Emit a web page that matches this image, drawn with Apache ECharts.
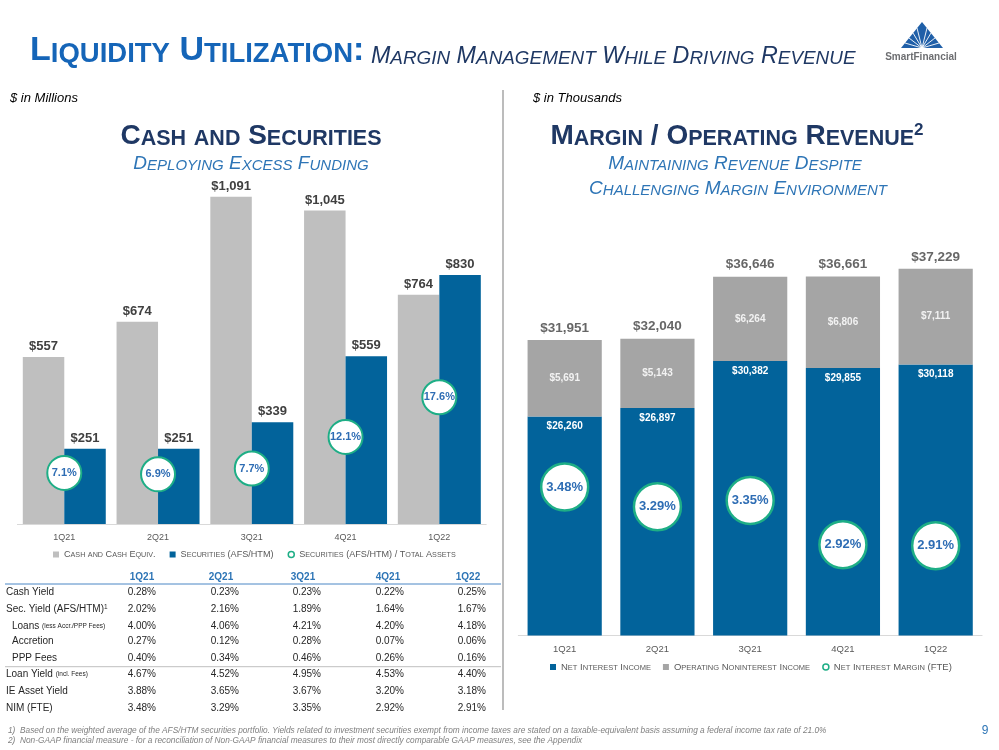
<!DOCTYPE html>
<html><head><meta charset="utf-8">
<script src="https://cdn.jsdelivr.net/npm/echarts@6/dist/echarts.min.js"></script>
<style>html,body{margin:0;padding:0;background:#fff}#c{width:999px;height:750px}</style>
</head><body><div id="c"></div>
<script>
// ---------- data ----------
const quarters = ['1Q21', '2Q21', '3Q21', '4Q21', '1Q22'];
const cashEquiv = [557, 674, 1091, 1045, 764];
const securities = [251, 251, 339, 559, 830];
const secToAssets = [7.1, 6.9, 7.7, 12.1, 17.6];
const netInterestIncome = [26260, 26897, 30382, 29855, 30118];
const nonInterestIncome = [5691, 5143, 6264, 6806, 7111];
const totalRevenue = [31951, 32040, 36646, 36661, 37229];
const nimFTE = [3.48, 3.29, 3.35, 2.92, 2.91];
const cashYield = [0.28, 0.23, 0.23, 0.22, 0.25];
const secYield = [2.02, 2.16, 1.89, 1.64, 1.67];
const loansExFees = [4.00, 4.06, 4.21, 4.20, 4.18];
const accretion = [0.27, 0.12, 0.28, 0.07, 0.06];
const pppFees = [0.40, 0.34, 0.46, 0.26, 0.16];
const loanYield = [4.67, 4.52, 4.95, 4.53, 4.40];
const ieAssetYield = [3.88, 3.65, 3.67, 3.20, 3.18];
const tableRowLabels = ['Cash Yield', 'Sec. Yield (AFS/HTM){sup|1}', 'Loans {tiny|(less Accr./PPP Fees)}', 'Accretion', 'PPP Fees', 'Loan Yield {tiny|(incl. Fees)}', 'IE Asset Yield', 'NIM (FTE)'];
const tableRowData = [cashYield, secYield, loansExFees, accretion, pppFees, loanYield, ieAssetYield, nimFTE];
const tableRowIndent = [false, false, true, true, true, false, false, false];
const footnote1 = '1)  Based on the weighted average of the AFS/HTM securities portfolio. Yields related to investment securities exempt from income taxes are stated on a taxable-equivalent basis assuming a federal income tax rate of 21.0%';
const footnote2 = '2)  Non-GAAP financial measure - for a reconciliation of Non-GAAP financial measures to their most directly comparable GAAP measures, see the Appendix';

// ---------- style ----------
const FONT = '"Liberation Sans", Arial, sans-serif';
const BLUE = '#02639b', GRAY_L = '#bfbfbf', GRAY_R = '#a5a5a5', GREEN = '#1eae86';
const TITLE_BLUE = '#1565b8', NAVY = '#1f3864', SUB_BLUE = '#2e75b6', PCT_BLUE = '#2e6db4';

function sc(s, bigKey, smallKey) {
  let out = '', run = '', key = null;
  for (const ch of s) {
    const lower = ch !== ch.toUpperCase();
    const k = lower ? smallKey : bigKey;
    if (key !== null && k !== key) { out += '{' + key + '|' + run + '}'; run = ''; }
    key = k; run += ch.toUpperCase();
  }
  if (run) out += '{' + key + '|' + run + '}';
  return out;
}
function rs(size, weight, style, color, extra) {
  return Object.assign({ fontSize: size, fontWeight: weight, fontStyle: style, fontFamily: FONT, fill: color, color: color, verticalAlign: 'bottom' }, extra || {});
}
const money = v => '$' + Number(v).toLocaleString('en-US');

// ---------- graphics (titles, table, notes) ----------
const g = [];
function txt(x, y, text, style) {
  g.push({ type: 'text', x: x, y: y, silent: true, style: Object.assign({ text: text, fontFamily: FONT, verticalAlign: 'middle' }, style) });
}
// main title
txt(30, 51, sc('Liquidity Utilization:', 'A', 'a') + '{B| }' + sc('Margin Management While Driving Revenue', 'B', 'b'), {
  align: 'left',
  rich: { A: rs(34, 'bold', 'normal', TITLE_BLUE), a: rs(27.5, 'bold', 'normal', TITLE_BLUE), B: rs(23.3, 'normal', 'italic', NAVY), b: rs(18.9, 'normal', 'italic', NAVY) }
});
txt(10, 98, '$ in Millions', { fontSize: 13, fontStyle: 'italic', fill: '#000', align: 'left' });
txt(533, 98, '$ in Thousands', { fontSize: 13, fontStyle: 'italic', fill: '#000', align: 'left' });
const secTitleRich = { C: rs(28, 'bold', 'normal', NAVY), c: rs(21.5, 'bold', 'normal', NAVY), sup: rs(17, 'bold', 'normal', NAVY, { verticalAlign: 'top' }) };
const subRich = { D: rs(19, 'normal', 'italic', SUB_BLUE), d: rs(15, 'normal', 'italic', SUB_BLUE) };
txt(251, 136, sc('Cash and Securities', 'C', 'c'), { align: 'center', rich: secTitleRich });
txt(251, 164, sc('Deploying Excess Funding', 'D', 'd'), { align: 'center', rich: subRich });
txt(737, 136, sc('Margin / Operating Revenue', 'C', 'c') + '{sup|2}', { align: 'center', rich: secTitleRich });
txt(735, 164, sc('Maintaining Revenue Despite', 'D', 'd'), { align: 'center', rich: subRich });
txt(738, 189, sc('Challenging Margin Environment', 'D', 'd'), { align: 'center', rich: subRich });

// logo
g.push({ type: 'polygon', silent: true, shape: { points: [[922, 22], [901, 48], [943, 48]] }, style: { fill: '#1f5fa8' } });
[[905, 43], [909, 38], [913, 33], [917, 28], [927, 28], [931, 33], [935, 38], [939, 43]].forEach(p => {
  g.push({ type: 'line', silent: true, shape: { x1: 922, y1: 48, x2: p[0], y2: p[1] }, style: { stroke: '#fff', lineWidth: 0.9 } });
});
txt(921, 57, 'SmartFinancial', { fontSize: 10, fontWeight: 'bold', fill: '#6d6e71', align: 'center' });

// divider
g.push({ type: 'line', silent: true, shape: { x1: 503, y1: 90, x2: 503, y2: 710 }, style: { stroke: '#a6a6a6', lineWidth: 1.5 } });

// table
const headerX = [142, 221, 303, 388, 468];
const valueRight = [156, 239, 321, 404, 486];
const rowY = [592.3, 609, 626, 641.7, 658.3, 674.3, 691.3, 708.3];
quarters.forEach((q, i) => txt(headerX[i], 577, q, { fontSize: 10, fontWeight: 'bold', fill: SUB_BLUE, align: 'center' }));
g.push({ type: 'line', silent: true, shape: { x1: 5, y1: 584, x2: 501, y2: 584 }, style: { stroke: '#4a86c5', lineWidth: 1 } });
g.push({ type: 'line', silent: true, shape: { x1: 5, y1: 666.7, x2: 501, y2: 666.7 }, style: { stroke: '#bfbfbf', lineWidth: 1 } });
tableRowLabels.forEach((lab, r) => {
  txt(tableRowIndent[r] ? 12 : 6, rowY[r], lab, {
    fontSize: 10, fill: '#262626', align: 'left',
    rich: { sup: rs(6.5, 'normal', 'normal', '#262626', { verticalAlign: 'top' }), tiny: rs(6.5, 'normal', 'normal', '#262626', { verticalAlign: 'middle' }) }
  });
  tableRowData[r].forEach((v, c) => txt(valueRight[c], rowY[r], v.toFixed(2) + '%', { fontSize: 10, fill: '#262626', align: 'right' }));
});

// footnotes & page number
txt(8, 731, footnote1, { fontSize: 8.3, fontStyle: 'italic', fill: '#7f7f7f', align: 'left' });
txt(8, 741, footnote2, { fontSize: 8.3, fontStyle: 'italic', fill: '#7f7f7f', align: 'left' });
txt(985, 731, '9', { fontSize: 12, fill: SUB_BLUE, align: 'center' });

// ---------- chart ----------
const legendRichL = { b: rs(9.1, 'normal', 'normal', '#595959'), s: rs(7.2, 'normal', 'normal', '#595959') };
const legendRichR = { b: rs(9.5, 'normal', 'normal', '#595959'), s: rs(7.5, 'normal', 'normal', '#595959') };
const chart = echarts.init(document.getElementById('c'), null, { renderer: 'canvas' });
chart.setOption({
  animation: false,
  backgroundColor: '#fff',
  textStyle: { fontFamily: FONT },
  grid: [
    { left: 17.4, width: 468.8, top: 164, height: 360 },
    { left: 518.3, width: 463.75, top: 231.5, height: 404 }
  ],
  xAxis: [0, 1].map(i => ({
    type: 'category', gridIndex: i, data: quarters,
    axisLine: { lineStyle: { color: '#d9d9d9', width: 1 } },
    axisTick: { show: false },
    axisLabel: { color: '#595959', fontSize: i === 0 ? 9 : 9.5, margin: 9, fontFamily: FONT }
  })),
  yAxis: [
    { type: 'value', gridIndex: 0, min: 0, max: 1200, show: false },
    { type: 'value', gridIndex: 0, min: 0, max: 50, show: false },
    { type: 'value', gridIndex: 1, min: 10000, max: 40000, show: false },
    { type: 'value', gridIndex: 1, min: 2.04, max: 5.96, show: false }
  ],
  legend: [
    {
      left: 53, top: 550, padding: 0, itemWidth: 6, itemHeight: 6, itemGap: 14,
      data: [{ name: 'Cash and Cash Equiv.', icon: 'rect' }, { name: 'Securities (AFS/HTM)', icon: 'rect' },
             { name: 'Securities (AFS/HTM) / Total Assets', icon: 'circle', itemStyle: { color: '#fff', borderColor: GREEN, borderWidth: 1.5 } }],
      formatter: n => sc(n, 'b', 's'), textStyle: { color: '#595959', rich: legendRichL }
    },
    {
      left: 550, top: 662, padding: 0, itemWidth: 6, itemHeight: 6, itemGap: 12,
      data: [{ name: 'Net Interest Income', icon: 'rect' }, { name: 'Operating Noninterest Income', icon: 'rect' },
             { name: 'Net Interest Margin (FTE)', icon: 'circle', itemStyle: { color: '#fff', borderColor: GREEN, borderWidth: 1.5 } }],
      formatter: n => sc(n, 'b', 's'), textStyle: { color: '#595959', rich: legendRichR }
    }
  ],
  series: [
    {
      name: 'Cash and Cash Equiv.', type: 'bar', xAxisIndex: 0, yAxisIndex: 0, data: cashEquiv,
      barGap: '0%', barCategoryGap: '11.5%', itemStyle: { color: GRAY_L },
      label: { show: true, position: 'top', distance: 4, color: '#404040', fontWeight: 'bold', fontSize: 13, fontFamily: FONT, formatter: p => money(p.value) }
    },
    {
      name: 'Securities (AFS/HTM)', type: 'bar', xAxisIndex: 0, yAxisIndex: 0, data: securities,
      itemStyle: { color: BLUE },
      label: { show: true, position: 'top', distance: 4, color: '#404040', fontWeight: 'bold', fontSize: 13, fontFamily: FONT, formatter: p => money(p.value) }
    },
    {
      name: 'Securities (AFS/HTM) / Total Assets', type: 'scatter', xAxisIndex: 0, yAxisIndex: 1, data: secToAssets,
      symbolSize: 34, z: 5, itemStyle: { color: '#fff', borderColor: GREEN, borderWidth: 2, opacity: 1 },
      label: { show: true, position: 'inside', color: PCT_BLUE, fontWeight: 'bold', fontSize: 11, fontFamily: FONT, formatter: p => p.value.toFixed(1) + '%' }
    },
    {
      name: 'Net Interest Income', type: 'bar', xAxisIndex: 1, yAxisIndex: 2, stack: 'rev', data: netInterestIncome,
      barCategoryGap: '20%', itemStyle: { color: BLUE },
      label: { show: true, position: 'insideTop', distance: 5, color: '#fff', fontWeight: 'bold', fontSize: 10, fontFamily: FONT, formatter: p => money(p.value) }
    },
    {
      name: 'Operating Noninterest Income', type: 'bar', xAxisIndex: 1, yAxisIndex: 2, stack: 'rev', data: nonInterestIncome,
      itemStyle: { color: GRAY_R },
      label: { show: true, position: 'inside', color: '#f2f2f2', fontWeight: 'bold', fontSize: 10, fontFamily: FONT, formatter: p => money(p.value) }
    },
    {
      name: 'Total Revenue', type: 'scatter', xAxisIndex: 1, yAxisIndex: 2, data: totalRevenue,
      symbolSize: 0, itemStyle: { color: 'rgba(0,0,0,0)' }, z: 6,
      label: { show: true, position: 'top', distance: 5, color: '#404040', fontWeight: 'bold', fontSize: 13.5, fontFamily: FONT, formatter: p => money(p.value) }
    },
    {
      name: 'Net Interest Margin (FTE)', type: 'scatter', xAxisIndex: 1, yAxisIndex: 3, data: nimFTE,
      symbolSize: 47, z: 5, itemStyle: { color: '#fff', borderColor: GREEN, borderWidth: 2.5, opacity: 1 },
      label: { show: true, position: 'inside', color: PCT_BLUE, fontWeight: 'bold', fontSize: 13, fontFamily: FONT, formatter: p => p.value.toFixed(2) + '%' }
    }
  ],
  graphic: { elements: g }
});
</script></body></html>
